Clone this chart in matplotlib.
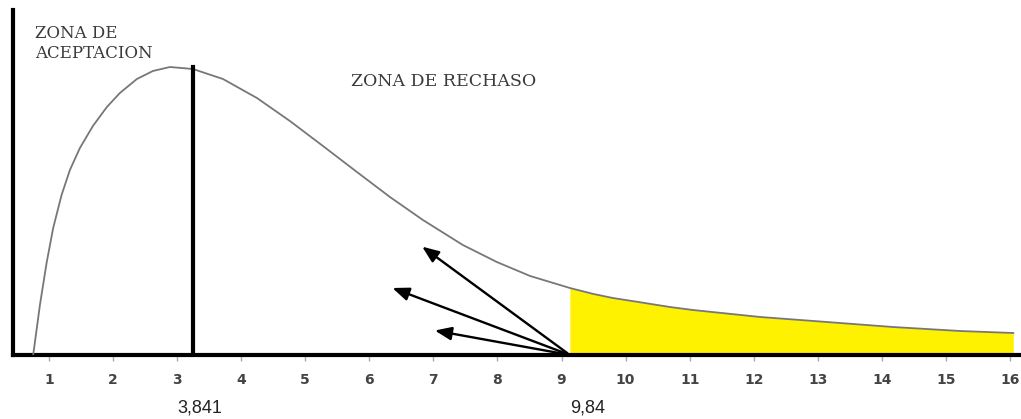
import numpy as np
import matplotlib.pyplot as plt

# curve
curva_x = [0.755, 0.86, 0.964, 1.067, 1.198, 1.328, 1.484, 1.687, 1.905, 2.108, 2.373, 2.623,
           2.889, 3.248, 3.716, 4.247, 4.761, 5.277, 5.807, 6.322, 6.837, 7.46, 7.99, 8.51,
           9.13, 9.5, 9.8, 10.2, 10.69, 11.05, 12.10, 13.14, 14.17, 15.22, 16.05]
curva_y = [0.0, 0.050, 0.092, 0.127, 0.160, 0.185, 0.207, 0.229, 0.248, 0.262, 0.276, 0.284,
           0.288, 0.286, 0.276, 0.257, 0.234, 0.209, 0.183, 0.158, 0.135, 0.110, 0.093, 0.079,
           0.067, 0.061, 0.057, 0.053, 0.048, 0.045, 0.038, 0.033, 0.028, 0.024, 0.022]

valor_aceptacion = 3.25
valor_rechazo = 9.13
etiqueta_aceptacion = "3,841"
etiqueta_rechazo = "9,84"
ticks = list(range(1, 17))

# arrow tips
flechas_x = [6.79, 6.32, 6.98]
flechas_y = [0.110, 0.068, 0.025]

x = np.array(curva_x)
y = np.array(curva_y)

fig = plt.figure(figsize=(10.21, 4.19), dpi=100)
ax = fig.add_axes([13 / 1021, 64 / 419, 1008 / 1021, 345 / 419])

ax.plot(x, y, color="#777777", lw=1.3, zorder=3, solid_joinstyle="round")

cola = x >= valor_rechazo
ax.fill_between(x[cola], 0, y[cola], color="#fff200", lw=0, zorder=2)

ax.plot([valor_aceptacion, valor_aceptacion], [0, 0.288],
        color="black", lw=3, zorder=4)

for fx, fy in zip(flechas_x, flechas_y):
    ax.annotate("", xy=(fx, fy), xytext=(valor_rechazo, 0.0),
                arrowprops=dict(arrowstyle="-|>,head_length=1.0,head_width=0.4",
                                color="black", lw=1.7), zorder=5)

ax.set_xlim(0.44, 16.17)
ax.set_ylim(0, 0.345)
ax.spines["top"].set_visible(False)
ax.spines["right"].set_visible(False)
ax.spines["left"].set_linewidth(3)
ax.spines["bottom"].set_linewidth(3)
ax.set_yticks([])
ax.set_xticks(ticks)
ax.set_xticklabels([str(t) for t in ticks], fontsize=10, fontweight="bold", color="#444444")
ax.tick_params(axis="x", length=4, width=1, color="#aaaaaa", pad=9)

ax.text(3.36, -0.053, etiqueta_aceptacion, fontsize=13, color="#222222",
        ha="center", va="center", family="Liberation Sans")
ax.text(9.40, -0.053, etiqueta_rechazo, fontsize=13, color="#222222",
        ha="center", va="center", family="Liberation Sans")

ax.text(0.78, 0.321, "ZONA DE", fontsize=12, family="DejaVu Serif",
        color="#3a3a3a", va="center", ha="left")
ax.text(0.78, 0.301, "ACEPTACION", fontsize=12, family="DejaVu Serif",
        color="#3a3a3a", va="center", ha="left")
ax.text(5.71, 0.273, "ZONA DE RECHASO", fontsize=12.5, family="DejaVu Serif",
        color="#3a3a3a", va="center", ha="left")

fig.savefig("out.png", dpi=100)
